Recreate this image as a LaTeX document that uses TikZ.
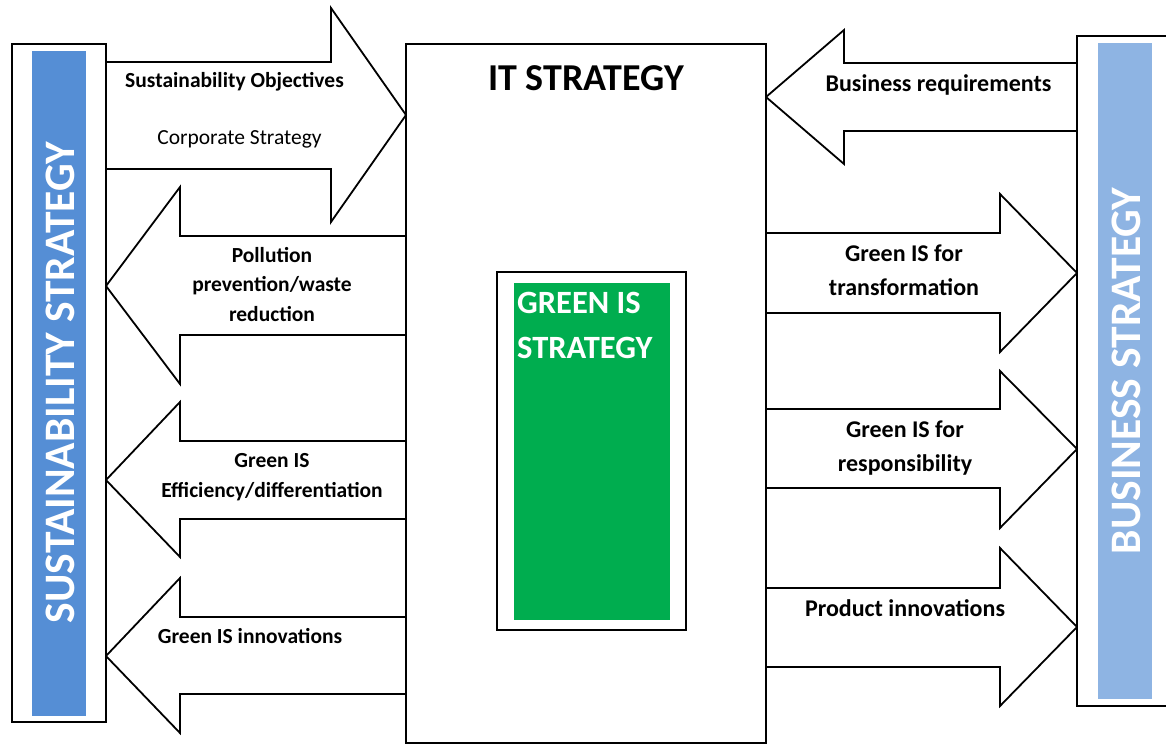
\documentclass[tikz,border=0pt]{standalone}
\usepackage{fontspec}
\setmainfont{Carlito}
\begin{document}
\begin{tikzpicture}[x=1pt,y=-1pt,
  outline/.style={draw=black,line width=1.8pt,line join=miter},
  blockarrow/.style={outline,fill=white},
  lbl/.style={font=\fontsize{21.5}{29.5}\selectfont\bfseries,align=center,anchor=base,inner sep=0pt},
  lblr/.style={font=\fontsize{24}{33.5}\selectfont\bfseries,align=center,anchor=base,inner sep=0pt},
  vtitle/.style={font=\fontsize{43.5}{50}\selectfont\bfseries,text=white,rotate=90,anchor=base,inner sep=0pt}
]
\definecolor{sustblue}{HTML}{558ED5}
\definecolor{busblue}{HTML}{8EB4E3}
\definecolor{isgreen}{HTML}{00AD4F}
\useasboundingbox (0,0) rectangle (1166,744);

% block arrows between the strategies
\draw[blockarrow] (106,62) -- (331,62) -- (331,8) -- (406,115) -- (331,222) -- (331,169) -- (106,169);
\draw[blockarrow] (406,236) -- (180,236) -- (180,187) -- (106,286) -- (180,384) -- (180,335) -- (406,335);
\draw[blockarrow] (406,441) -- (180,441) -- (180,402) -- (106,480) -- (180,557) -- (180,519) -- (406,519);
\draw[blockarrow] (406,617) -- (180,617) -- (180,578) -- (106,656) -- (180,733) -- (180,694) -- (406,694);
\draw[blockarrow] (1077,63) -- (844,63) -- (844,30) -- (766,97) -- (844,164) -- (844,131) -- (1077,131);
\draw[blockarrow] (766,233) -- (1000,233) -- (1000,194) -- (1077,273) -- (1000,352) -- (1000,313) -- (766,313);
\draw[blockarrow] (766,409) -- (1000,409) -- (1000,371) -- (1077,449) -- (1000,528) -- (1000,488) -- (766,488);
\draw[blockarrow] (766,588) -- (1000,588) -- (1000,548) -- (1077,627) -- (1000,706) -- (1000,667) -- (766,667);

% left: sustainability strategy
\draw[outline,fill=white] (12,44) rectangle (106,722);
\fill[sustblue] (32,51) rectangle (86,716);
\node[vtitle] (sust) at (74,382.5) {SUSTAINABILITY STRATEGY};

% right: business strategy
\draw[outline,fill=white] (1077,706) -- (1077,36) -- (1175,36) -- (1175,706) -- cycle;
\fill[busblue] (1098,43) rectangle (1152,699);
\node[vtitle] (bus) at (1140,371) {BUSINESS STRATEGY};

% centre: IT strategy with green IS strategy inside
\draw[outline,fill=white] (406,44) rectangle (766,743);
\node[font=\fontsize{38}{44}\selectfont\bfseries,anchor=base,inner sep=0pt] (it) at (586,90.5) {IT STRATEGY};
\draw[outline] (497,272) rectangle (686,630);
\fill[isgreen] (514,283) rectangle (670,620);
\node[font=\fontsize{32.5}{45}\selectfont\bfseries,text=white,align=left,anchor=base west,inner sep=0pt] (gis) at (517,358) {GREEN IS\\STRATEGY};

% arrow labels (anchored at the baseline of their last line)
\node[lbl] (so) at (234.5,87) {Sustainability Objectives};
\node[lbl,font=\fontsize{21.5}{29.5}\selectfont] (cs) at (239.5,144) {Corporate Strategy};
\node[lbl] (pp) at (272,321) {Pollution\\prevention/waste\\reduction};
\node[lbl] (ge) at (272,497) {Green IS\\Efficiency/differentiation};
\node[lbl] (gi) at (250,643) {Green IS innovations};
\node[lblr] (br) at (938.5,91) {Business requirements};
\node[lblr] (gt) at (904,295) {Green IS for\\transformation};
\node[lblr] (gr) at (905,471) {Green IS for\\responsibility};
\node[lblr] (pi) at (905,616) {Product innovations};
\end{tikzpicture}
\end{document}
